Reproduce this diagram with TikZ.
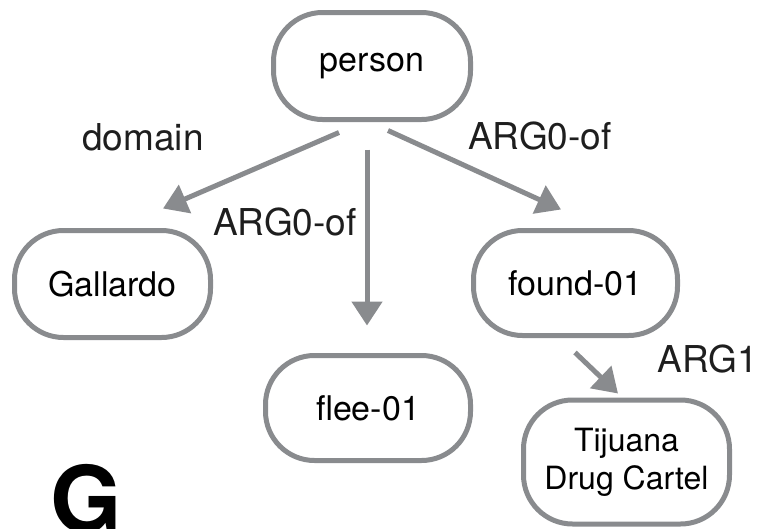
\documentclass[tikz,border=0pt]{standalone}
\usepackage{fontspec}
\setmainfont{TeX Gyre Heros}
\usetikzlibrary{arrows.meta,calc}
\definecolor{edgegray}{HTML}{898B8E}
\definecolor{labelblack}{HTML}{1E1E1E}
\tikzset{
  amrbox/.style={draw=edgegray, line width=5pt, rounded corners=49pt,
    inner sep=0pt, align=center, text=black, font=\fontsize{34}{40}\selectfont},
  amrarrow/.style={draw=edgegray, line width=5pt,
    -{Triangle[length=24pt,width=30pt]}},
  amrlabel/.style={anchor=base, text=labelblack, inner sep=0pt,
    font=\fontsize{37}{40}\selectfont}
}
\begin{document}
\begin{tikzpicture}[x=1pt,y=-1pt]
\path[use as bounding box, clip] (0,0) rectangle (761,528);
\node[amrbox, minimum width=197pt, minimum height=107pt] (person) at (372,66) {person};
\node[amrbox, minimum width=196pt, minimum height=107pt] (gallardo) at (112.5,284) {Gallardo};
\node[amrbox, minimum width=204pt, minimum height=105pt] (found) at (575.5,283) {found-01};
\node[amrbox, minimum width=205pt, minimum height=105pt] (flee) at (368,408) {flee-01};
\node[amrbox, minimum width=206pt, minimum height=124pt, font=\fontsize{32}{38}\selectfont] (tijuana) at (626.5,462) {Tijuana\\Drug Cartel};

\draw[amrarrow] ($(person.south)+(-33,10.5)$) -- ($(gallardo.north)+(50.5,-19.5)$);
\draw[amrarrow] ($(person.south)+(-5,27.5)$) -- ($(flee.north)+(-1,-27.5)$);
\draw[amrarrow] ($(person.south)+(16,8.5)$) -- ($(found.north)+(-14.5,-18.5)$);
\draw[amrarrow] ($(found.south)+(-0.5,14.5)$) -- ($(tijuana.north)+(-8.5,-4)$);

\node[amrlabel] (ldomain) at (143,150) {domain};
\node[amrlabel] (larg0a) at (285,235) {ARG0-of};
\node[amrlabel] (larg0b) at (540,149) {ARG0-of};
\node[amrlabel, anchor=base east] (larg1) at (758,372) {ARG1};
\node[anchor=base west, inner sep=0pt, font=\bfseries\fontsize{92}{96}\selectfont] (gmark) at (50,532) {G};
\end{tikzpicture}
\end{document}
